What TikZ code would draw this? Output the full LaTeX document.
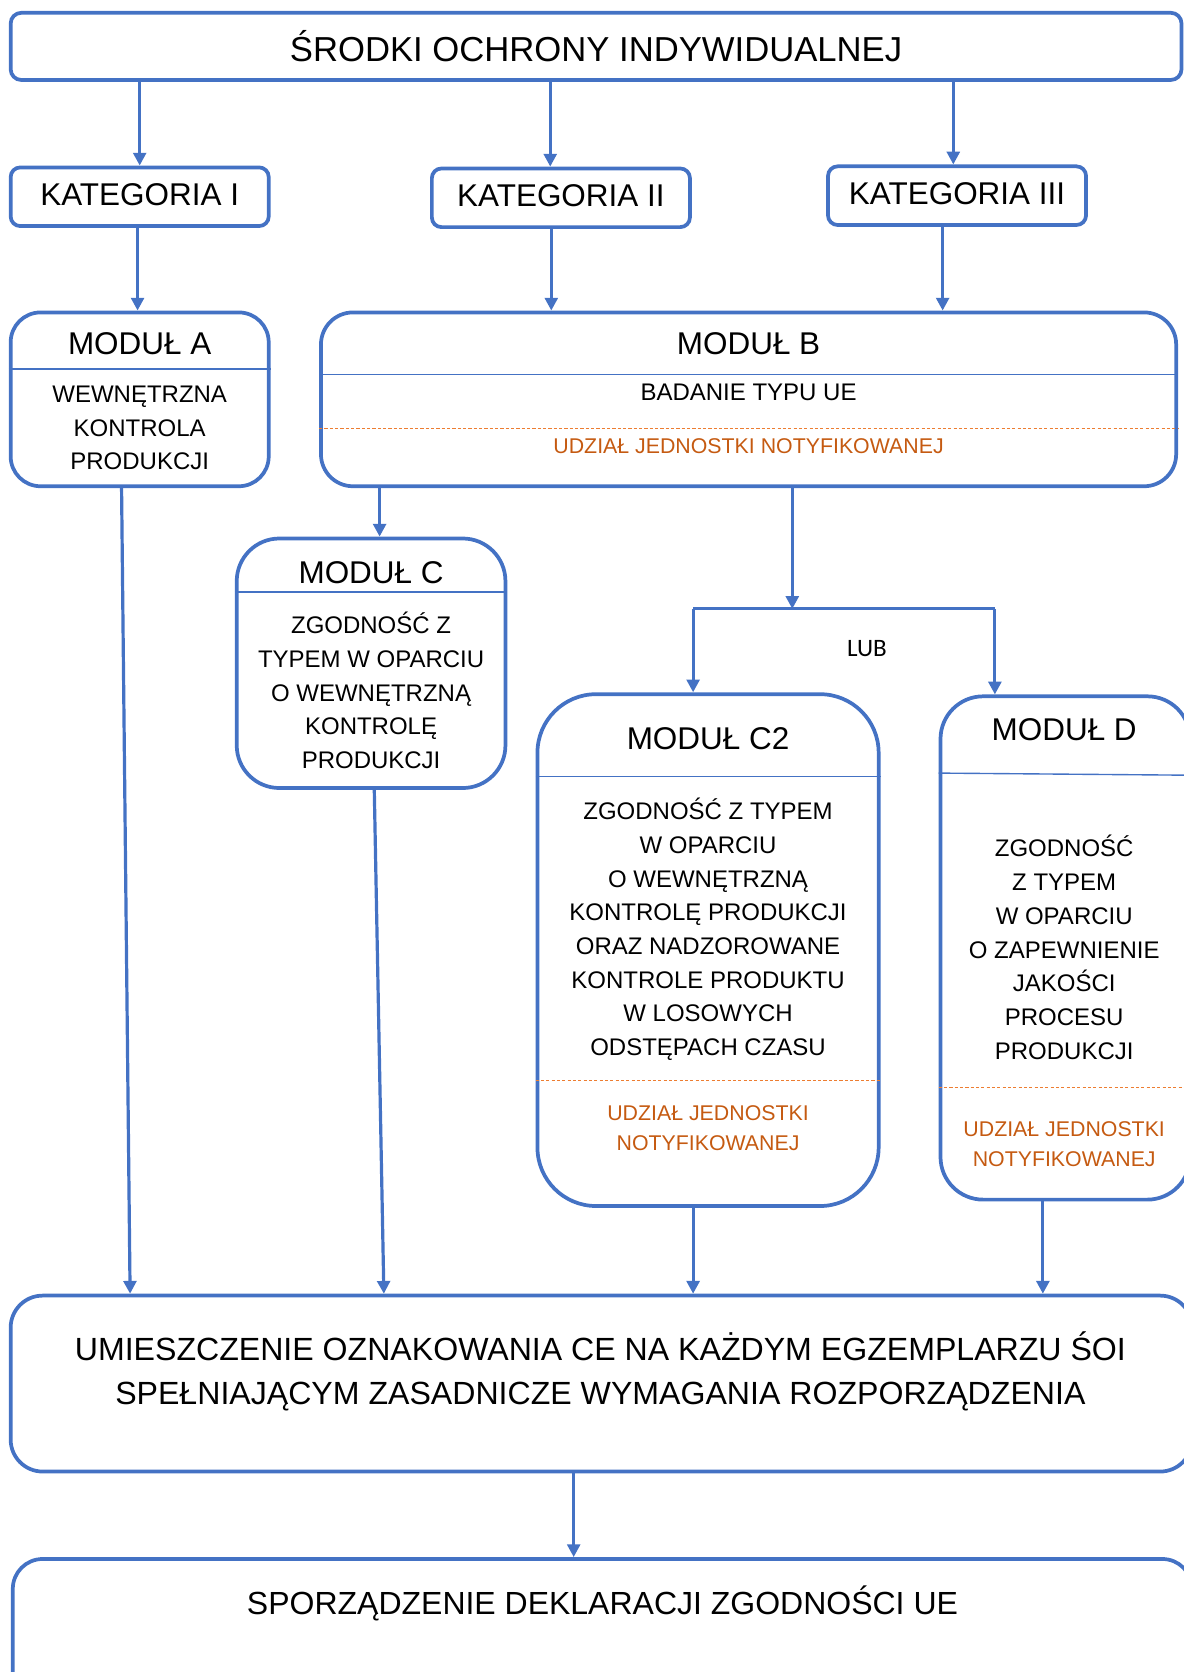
\documentclass[tikz,border=0pt]{standalone}
\usepackage{fontspec}
\setmainfont{Liberation Sans}
\newfontfamily\lubfont{Carlito}
\usepackage{tikz}
\usetikzlibrary{arrows.meta}
\definecolor{ppeblue}{HTML}{4472C4}
\definecolor{ppeorange}{HTML}{C55A11}
\definecolor{ppedash}{HTML}{ED7D31}
\newcommand{\udzialJN}{UDZIAŁ JEDNOSTKI NOTYFIKOWANEJ}
\newcommand{\udzialJNtwo}{UDZIAŁ JEDNOSTKI\\NOTYFIKOWANEJ}

\begin{document}
\begin{tikzpicture}[x=1pt, y=-1pt, ->, >={Triangle[length=12pt,width=12pt]}]
        \tikzset{
           box/.style={
                        rectangle,
                        rounded corners=#1,
                        draw=ppeblue,
                        line width=3.5pt,
                        fill=none,
                        text=black,
                        inner sep=0pt
                       },
           box/.default=9pt,
           kat/.style={minimum width=242, minimum height=55, text height=21.1pt, text depth=5pt, font=\fontsize{29.5}{34}\selectfont},
           big/.style={font=\fontsize{29.5}{34}\selectfont},
           small/.style={font=\fontsize{22.5}{31.6}\selectfont, align=center},
           notifText/.style={text=ppeorange, font=\fontsize{20}{28}\selectfont, align=center},
           sep/.style={-, draw=ppeblue, line width=1.3pt},
           notif/.style={-, draw=ppedash, line width=1.1pt, dash pattern=on 3pt off 2pt},
           arr/.style={every edge/.style={draw=ppeblue, line width=3pt}}
                 }
        \useasboundingbox (0,0) rectangle (1110,1568);
    %--------------------
        \node[box=10pt, minimum width=1098, minimum height=63, font=\fontsize{32.5}{38}\selectfont] (srodki) at (559,43.5) {ŚRODKI OCHRONY INDYWIDUALNEJ};

        \node[box, kat] (kat1) at (131,184.5)   {KATEGORIA I};
        \node[box, kat] (kat2) at (526,185.5)   {KATEGORIA II};
        \node[box, kat] (kat3) at (897.5,183.5) {KATEGORIA III};

        \node[box=28pt, minimum width=242, minimum height=163] (modA) at (131,374.5) {};
        \node[big]   (modAtitle) at (131,322)   {MODUŁ A};
        \node[small] (modAbody)  at (131,401.5) {WEWNĘTRZNA\\KONTROLA\\PRODUKCJI};

        \node[box=30pt, minimum width=802, minimum height=163] (modB) at (702,374.5) {};
        \node[big]   (modBtitle) at (702,322) {MODUŁ B};
        \node[small, font=\fontsize{22.5}{26}\selectfont] (modBbody) at (702,368) {BADANIE TYPU UE};
        \node[notifText] (modBnotif) at (702,418) {\udzialJN};

        \node[box=40pt, minimum width=252, minimum height=234] (modC) at (348,622) {};
        \node[big]   (modCtitle) at (348,537)   {MODUŁ C};
        \node[small] (modCbody)  at (348,647.5) {ZGODNOŚĆ Z\\TYPEM W OPARCIU\\O WEWNĘTRZNĄ\\KONTROLĘ\\PRODUKCJI};

        \node[box=55pt, minimum width=320, minimum height=480] (modCC) at (664,891) {};
        \node[big]   (modCCtitle) at (664,693)   {MODUŁ C2};
        \node[small] (modCCbody)  at (664,871.5) {ZGODNOŚĆ Z TYPEM\\W OPARCIU\\O WEWNĘTRZNĄ\\KONTROLĘ PRODUKCJI\\ORAZ NADZOROWANE\\KONTROLE PRODUKTU\\W LOSOWYCH\\ODSTĘPACH CZASU};
        \node[notifText] (modCCnotif) at (664,1058) {\udzialJNtwo};

        \node[box=40pt, minimum width=234, minimum height=472] (modD) at (999,889) {};
        \node[big]   (modDtitle) at (998,684)   {MODUŁ D};
        \node[small] (modDbody)  at (998,888.5) {ZGODNOŚĆ\\Z TYPEM\\W OPARCIU\\O ZAPEWNIENIE\\JAKOŚCI\\PROCESU\\PRODUKCJI};
        \node[notifText] (modDnotif) at (998,1073) {\udzialJNtwo};

        \node[font=\lubfont\fontsize{23.5}{28}\selectfont] (lub) at (813,608) {LUB};

        \node[box=30pt, minimum width=1108, minimum height=165] (ce) at (564,1297.5) {};
        \node[align=center, font=\fontsize{30.1}{41}\selectfont] (ceText) at (563,1286) {UMIESZCZENIE OZNAKOWANIA CE NA KAŻDYM EGZEMPLARZU ŚOI\\SPEŁNIAJĄCYM ZASADNICZE WYMAGANIA ROZPORZĄDZENIA};
        \node[box=28pt, minimum width=1106, minimum height=138] (decl) at (565,1531) {};
        \node[font=\fontsize{30}{34}\selectfont] (declText) at (565,1504) {SPORZĄDZENIE DEKLARACJI ZGODNOŚCI UE};

        \coordinate (lubL) at (650,571);
        \coordinate (lubM) at (743,571);
        \coordinate (lubR) at (933,571);
    %--------------------
        \draw[sep]   (modA.west |- 0,346)   -- (modA.east |- 0,346);
        \draw[sep]   (modB.west |- 0,351)   -- (modB.east |- 0,351);
        \draw[notif] (modB.west |- 0,402)   -- (modB.east |- 0,402);
        \draw[sep]   (modC.west |- 0,555)   -- (modC.east |- 0,555);
        \draw[sep]   (modCC.west |- 0,728)  -- (modCC.east |- 0,728);
        \draw[notif] (modCC.west |- 0,1013) -- (modCC.east |- 0,1013);
        \draw[sep]   (modD.west |- 0,725)   -- (modD.east |- 0,727);
        \draw[notif] (modD.west |- 0,1020)  -- (modD.east |- 0,1020);
    %--------------------
        \path[arr] (srodki.south -| kat1.north) edge (kat1.north)
              (srodki.south -| 516,0)     edge (kat2.north -| 516,0)
              (srodki.south -| 894,0)     edge (kat3.north -| 894,0)
              (kat1.south -| 129,0)       edge (modA.north -| 129,0)
              (kat2.south -| 517,0)       edge (modB.north -| 517,0)
              (kat3.south -| 884,0)       edge (modB.north -| 884,0)
              (modB.south -| 356,0)       edge (modC.north -| 356,0)
              (modB.south -| lubM)        edge (lubM)
              (lubL)                      edge[-] (lubR)
              (lubL)                      edge (modCC.north -| lubL)
              (lubR)                      edge (modD.north -| lubR)
              (modA.south -| 114,0)       edge (ce.north -| 122,0)
              (modC.south -| 351,0)       edge (ce.north -| 360,0)
              (modCC.south -| 650,0)      edge (ce.north -| 650,0)
              (modD.south -| 978,0)       edge (ce.north -| 978,0)
              (ce.south -| 538,0)         edge (decl.north -| 538,0)
        ;
    \end{tikzpicture}
\end{document}
